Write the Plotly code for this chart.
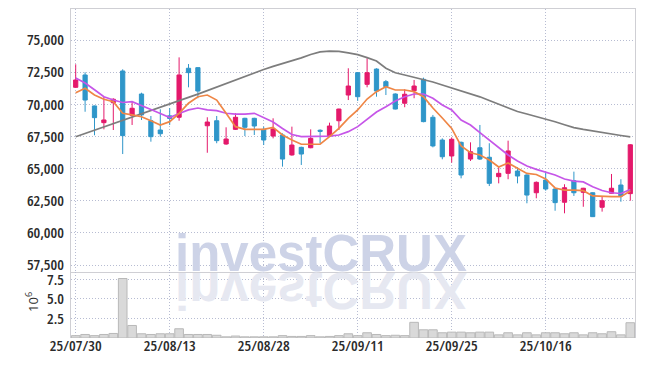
import plotly.graph_objects as go
from plotly.subplots import make_subplots

dates = [
    "25/07/30", "25/07/31", "25/08/01", "25/08/04", "25/08/05", "25/08/06", "25/08/07", "25/08/08",
    "25/08/11", "25/08/12", "25/08/13", "25/08/14", "25/08/18", "25/08/19", "25/08/20", "25/08/21",
    "25/08/22", "25/08/25", "25/08/26", "25/08/27", "25/08/28", "25/08/29", "25/09/01", "25/09/02",
    "25/09/03", "25/09/04", "25/09/05", "25/09/08", "25/09/09", "25/09/10", "25/09/11", "25/09/12",
    "25/09/15", "25/09/16", "25/09/17", "25/09/18", "25/09/19", "25/09/22", "25/09/23", "25/09/24",
    "25/09/25", "25/09/26", "25/09/29", "25/09/30", "25/10/01", "25/10/02", "25/10/10", "25/10/13",
    "25/10/14", "25/10/15", "25/10/16", "25/10/17", "25/10/20", "25/10/21", "25/10/22", "25/10/23",
    "25/10/24", "25/10/27", "25/10/28", "25/10/29",
]

open_ = [71320, 72280, 69870, 68570, 70120, 72590, 69140, 70800, 68720, 68000,
         69100, 68990, 72800, 72850, 68330, 68720, 66910, 68050, 68910, 68910,
         68050, 67530, 67610, 66060, 66650, 66620, 67980, 67530, 68720, 70720,
         72460, 71550, 72740, 71760, 70800, 70080, 71060, 71940, 68990, 67220,
         65980, 67040, 65740, 66620, 65880, 64370, 64630, 64810, 64500, 63120,
         64110, 63410, 62380, 64060, 63150, 63120, 61990, 63080, 63720, 63050]
high = [73110, 72490, 69900, 70590, 70470, 72720, 70200, 70900, 69090, 69610,
        69700, 73650, 73130, 72880, 68990, 69090, 68210, 69300, 68950, 68950,
        68260, 68910, 67740, 68260, 66700, 68050, 68050, 68570, 69650, 72800,
        72500, 73580, 72800, 71890, 70850, 71170, 71890, 72070, 69170, 67350,
        67430, 67100, 67040, 68390, 66970, 65100, 67170, 65100, 64550, 64000,
        64760, 63450, 63780, 64760, 63500, 63150, 62810, 64580, 64170, 66900]
low = [71300, 69420, 67590, 68050, 68000, 66130, 68390, 68780, 67090, 67480,
       68390, 68720, 71320, 70470, 66230, 66970, 66850, 68000, 67530, 67610,
       66830, 67350, 65150, 66000, 65280, 66580, 66970, 67500, 68000, 70330,
       70260, 71320, 70590, 70720, 69600, 69770, 70470, 68600, 66650, 65720,
       65460, 64240, 65590, 65670, 63640, 63850, 64170, 63850, 62300, 62690,
       63280, 61720, 61520, 62870, 62030, 61230, 61650, 63050, 62420, 62500]
close = [71890, 70330, 68960, 68780, 70390, 67560, 69690, 69170, 67480, 67710,
         68900, 72280, 72460, 71030, 68620, 67170, 67300, 68990, 68210, 68310,
         67220, 68080, 65740, 66830, 66130, 67350, 67900, 68310, 69630, 71420,
         70590, 72460, 71030, 71370, 69630, 70780, 71420, 68650, 66760, 65920,
         67280, 64500, 66310, 65740, 63850, 64630, 66370, 64420, 62940, 63930,
         63410, 62350, 63510, 63120, 63470, 61260, 62500, 63470, 62870, 66850]

ma_short = [70900, 71240, 70720, 70390, 70200, 69300, 69170, 69030, 68720, 68390,
            68650, 69300, 70080, 70590, 70720, 70330, 69300, 68260, 68050, 68050,
            68050, 68210, 67610, 67220, 66890, 66890, 66890, 67480, 68130, 68910,
            69560, 70410, 70980, 71370, 71110, 71110, 70980, 70590, 69710, 68930,
            68120, 66760, 66230, 66060, 65670, 65120, 65430, 65020, 64620, 64540,
            64190, 63490, 63330, 63330, 63280, 62870, 62830, 62810, 62810, 63260]
ma_mid = [72040, 71660, 71130, 70590, 70330, 70140, 70200, 69870, 69590, 69280,
          68970, 69280, 69560, 69710, 69560, 69500, 69300, 69240, 69240, 69300,
          68990, 68620, 68120, 67650, 67480, 67480, 67480, 67530, 67610, 67870,
          68260, 68830, 69400, 69810, 70260, 70590, 70800, 70800, 70470, 69940,
          69560, 68780, 68390, 67790, 67220, 66580, 66060, 65590, 65200, 64940,
          64730, 64500, 64190, 64030, 63960, 63590, 63290, 63120, 63060, 63370]
ma_long = [67480, 67740, 67990, 68250, 68500, 68750, 69010, 69270, 69520, 69770,
           70030, 70290, 70540, 70790, 71070, 71340, 71620, 71890, 72160, 72430,
           72710, 72950, 73160, 73380, 73610, 73870, 74070, 74140, 74110, 74000,
           73860, 73630, 73370, 72810, 72450, 72280, 72110, 71930, 71730, 71500,
           71270, 71050, 70820, 70580, 70290, 69990, 69710, 69440, 69240, 69050,
           68870, 68640, 68410, 68190, 68050, 67920, 67790, 67680, 67570, 67460]

volume_m = [0.30, 0.45, 0.30, 0.45, 0.58, 7.60, 1.60, 0.54, 0.45, 0.54,
            0.54, 1.18, 0.45, 0.45, 0.45, 0.35, 0.15, 0.25, 0.15, 0.15,
            0.15, 0.15, 0.30, 0.20, 0.20, 0.30, 0.15, 0.20, 0.30, 0.54,
            0.30, 0.67, 0.45, 0.30, 0.35, 0.30, 2.00, 1.05, 1.05, 0.67,
            0.75, 0.75, 0.67, 0.75, 0.75, 0.40, 0.67, 0.40, 0.67, 0.40,
            0.67, 0.67, 0.54, 0.67, 0.40, 0.67, 0.54, 0.80, 0.40, 1.95]

tick_dates = ["25/07/30", "25/08/13", "25/08/28", "25/09/11", "25/09/25", "25/10/16"]
price_ticks = [57500, 60000, 62500, 65000, 67500, 70000, 72500, 75000]
volume_ticks = [2.5, 5.0, 7.5]
volume_unit = "10<sup>6</sup>"
watermark = "investCRUX"

UP = "#e4196b"
DOWN = "#2f96c9"
GRID = "#b7bcd2"
DOTS = "1px,2px"
FRAME = "#cfcfd4"
FONT = "Open Sans, Roboto, sans-serif"

fig = make_subplots(rows=2, cols=1, shared_xaxes=True, vertical_spacing=0)

fig.add_trace(go.Candlestick(
    x=dates, open=open_, high=high, low=low, close=close,
    increasing=dict(fillcolor=UP, line=dict(color=UP, width=1)),
    decreasing=dict(fillcolor=DOWN, line=dict(color=DOWN, width=1)),
    whiskerwidth=0, showlegend=False, hoverinfo="skip",
), row=1, col=1)

for vals, color in [(ma_long, "#7d7d7d"), (ma_mid, "#c656e8"), (ma_short, "#ef8646")]:
    fig.add_trace(go.Scatter(x=dates, y=vals, mode="lines",
                             line=dict(color=color, width=1.7),
                             showlegend=False, hoverinfo="skip"), row=1, col=1)

fig.add_trace(go.Bar(x=dates, y=volume_m, marker=dict(color="#d9d9d9", line=dict(color="#b9b9b9", width=1)),
                     showlegend=False, hoverinfo="skip"), row=2, col=1)

axis_font = dict(family=FONT, size=15, color="#2b2b2b", weight=600)

fig.update_layout(
    width=645, height=366,
    margin=dict(l=71, r=10, t=9, b=28),
    paper_bgcolor="white", plot_bgcolor="white",
    boxgap=0.36, bargap=0.08,
    showlegend=False,
    xaxis=dict(type="category", range=[-0.5, 59.5], tickvals=tick_dates, showticklabels=False,
               showgrid=True, gridcolor=GRID, griddash=DOTS, gridwidth=1,
               showline=True, linecolor=FRAME, linewidth=1, mirror=True,
               rangeslider=dict(visible=False), zeroline=False, automargin=False),
    xaxis2=dict(type="category", range=[-0.5, 59.5], tickvals=tick_dates, ticktext=tick_dates,
                showgrid=True, gridcolor=GRID, griddash=DOTS, gridwidth=1,
                showline=False, tickfont=axis_font, ticks="", ticklabelstandoff=-3,
                zeroline=False, automargin=False),
    yaxis=dict(domain=[0.2006, 1], range=[56955, 77411], tickvals=price_ticks, tickformat=",d",
               showgrid=True, gridcolor=GRID, griddash=DOTS, gridwidth=1,
               showline=True, linecolor=FRAME, linewidth=1, mirror=True,
               tickfont=axis_font, ticks="outside", ticklen=3, tickcolor="rgba(0,0,0,0)",
               zeroline=False, automargin=False),
    yaxis2=dict(domain=[0, 0.2006], range=[0, 8.43], tickvals=volume_ticks, ticktext=["2.5", "5.0", "7.5"],
                showgrid=True, gridcolor=GRID, griddash=DOTS, gridwidth=1,
                showline=True, linecolor=FRAME, linewidth=1, mirror=True,
                tickfont=axis_font, ticks="outside", ticklen=3, tickcolor="rgba(0,0,0,0)",
                zeroline=False, automargin=False),
    annotations=[
        dict(text=watermark, xref="paper", yref="paper", x=0.4438, y=0.1647,
             xanchor="center", yanchor="bottom", showarrow=False,
             font=dict(family="Liberation Sans, Arial, sans-serif", size=51, color="#cdd3e7", weight="bold")),
        dict(text=watermark, xref="paper", yref="paper", x=0.4438, y=0.2365,
             xanchor="center", yanchor="top", showarrow=False,
             font=dict(family="Liberation Sans, Arial, sans-serif", size=51, color="#e6e8f1", weight="bold")),
        dict(text=volume_unit, xref="paper", yref="paper", x=-0.069, y=0.11,
             xanchor="center", yanchor="middle", showarrow=False, textangle=-90,
             font=dict(family=FONT, size=13, color="#2b2b2b")),
    ],
)

post = """
(function(){
  document.body.style.margin = '0';
  document.body.style.padding = '0';
  var gd = document.getElementById('{plot_id}');
  function fix(){
    var a = gd.querySelector('.annotation[data-index="1"] text');
    if(a){
      a.style.transformBox = 'fill-box';
      a.style.transformOrigin = '50% 50%';
      a.style.transform = 'scaleY(-1)';
    }
    var t = gd.querySelectorAll('.xtick text, .ytick text, .y2tick text, .x2tick text');
    for (var i = 0; i < t.length; i++) { t[i].style.fontStretch = '75%'; }
  }
  fix();
  if(gd.on){ gd.on('plotly_afterplot', fix); }
})();
"""

fig.write_html("out.html", post_script=post, config={"displayModeBar": False})
